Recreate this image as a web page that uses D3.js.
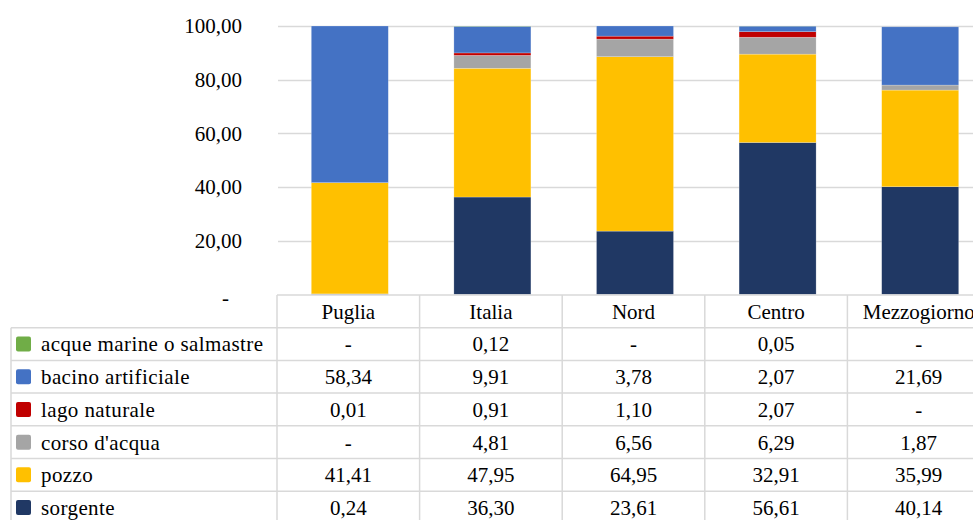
<!DOCTYPE html>
<html>
<head>
<meta charset="utf-8">
<script src="https://cdn.jsdelivr.net/npm/d3@7"></script>
<style>
  body { margin: 0; background: #fff; }
</style>
</head>
<body>
<div id="chart"></div>
<script>
// Data
var categories = ["Puglia", "Italia", "Nord", "Centro", "Mezzogiorno"];
var sorgente = [0.24, 36.30, 23.61, 56.61, 40.14];
var pozzo = [41.41, 47.95, 64.95, 32.91, 35.99];
var corsoAcqua = [0, 4.81, 6.56, 6.29, 1.87];
var lagoNaturale = [0.01, 0.91, 1.10, 2.07, 0];
var bacinoArtificiale = [58.34, 9.91, 3.78, 2.07, 21.69];
var acqueMarine = [0, 0.12, 0, 0.05, 0];
var yTicks = [0, 20, 40, 60, 80, 100];

// series, bottom of the stack first
var series = [
    {name: "sorgente", values: sorgente, color: "#203864"},
    {name: "pozzo", values: pozzo, color: "#FFC000"},
    {name: "corso d'acqua", values: corsoAcqua, color: "#A5A5A5"},
    {name: "lago naturale", values: lagoNaturale, color: "#C00000"},
    {name: "bacino artificiale", values: bacinoArtificiale, color: "#4472C4"},
    {name: "acque marine o salmastre", values: acqueMarine, color: "#70AD47"}
];

var width = 973, height = 520;
var plotLeft = 277, plotRight = 990;
var plotTop = 26, plotBottom = 294.5;
var rowH = 32.7;
var headerTop = 295;
var legendLeft = 11;
var gridColor = "#d9d9d9";
var fontSize = 21;
var fontFam = "'Liberation Serif'";

var it = d3.formatLocale({decimal: ",", thousands: ".", grouping: [3], currency: ["€", ""]});
var fmt = it.format(",.2f");
var cellFmt = function(v) { return v === 0 ? "-" : fmt(v); };

var svg = d3.select("#chart").append("svg")
    .attr("width", width)
    .attr("height", height);

var x = d3.scaleBand()
    .domain(categories)
    .range([plotLeft, plotRight])
    .padding(0);
var barW = 77;

var y = d3.scaleLinear()
    .domain([0, 100])
    .range([plotBottom, plotTop]);

// gridlines
svg.append("g")
    .selectAll("line")
    .data(yTicks.filter(function(t) { return t > 0; }))
    .enter().append("line")
    .attr("x1", plotLeft + 1)
    .attr("x2", width)
    .attr("y1", function(d) { return Math.round(y(d)) + 0.5; })
    .attr("y2", function(d) { return Math.round(y(d)) + 0.5; })
    .attr("stroke", gridColor)
    .attr("stroke-width", 1.5);

// y axis labels
var yAxis = d3.axisLeft(y)
    .tickValues(yTicks)
    .tickSize(0)
    .tickPadding(0)
    .tickFormat(function(d) { return d === 0 ? "-" : fmt(d); });

var yG = svg.append("g")
    .attr("transform", "translate(242,0)")
    .call(yAxis);
yG.select(".domain").remove();
yG.attr("font-family", null).attr("font-size", null);
yG.selectAll("text")
    .style("font-family", fontFam)
    .style("font-size", fontSize + "px")
    .attr("fill", "#000")
    .attr("dy", "0.32em")
    .attr("x", function(d) { return d === 0 ? -13 : 0; })
    .attr("y", function(d) { return d === 0 ? 3 : 0; });

// stacked bars
var rows = categories.map(function(c, i) {
    var r = {cat: c};
    series.forEach(function(s) { r[s.name] = s.values[i]; });
    return r;
});
var stack = d3.stack().keys(series.map(function(s) { return s.name; }));
var stacked = stack(rows);

svg.append("g")
    .selectAll("g")
    .data(stacked)
    .enter().append("g")
    .attr("fill", function(d, i) { return series[i].color; })
    .selectAll("rect")
    .data(function(d) { return d; })
    .enter().append("rect")
    .attr("x", function(d) { return x(d.data.cat) + (x.bandwidth() - barW) / 2 + 1.5; })
    .attr("width", barW)
    .attr("y", function(d) { return y(d[1]); })
    .attr("height", function(d) { return Math.max(0, y(d[0]) - y(d[1])); })
    .attr("stroke", "rgba(255,255,255,0.35)")
    .attr("stroke-width", 0.6);

// data table
var table = svg.append("g");
var legendRows = series.slice().reverse();
var tableBottom = headerTop + rowH * (legendRows.length + 1);

function addText(sel) {
    return sel.append("text")
        .style("font-family", fontFam)
        .style("font-size", fontSize + "px")
        .attr("fill", "#000");
}

// horizontal lines
table.append("line")
    .attr("x1", plotLeft).attr("x2", width)
    .attr("y1", headerTop).attr("y2", headerTop)
    .attr("stroke", gridColor).attr("stroke-width", 1.5);
d3.range(1, legendRows.length + 2).forEach(function(k) {
    var yy = headerTop + rowH * k;
    table.append("line")
        .attr("x1", legendLeft).attr("x2", width)
        .attr("y1", yy).attr("y2", yy)
        .attr("stroke", gridColor).attr("stroke-width", 1.5);
});

// vertical lines
table.append("line")
    .attr("x1", legendLeft).attr("x2", legendLeft)
    .attr("y1", headerTop + rowH).attr("y2", tableBottom)
    .attr("stroke", gridColor).attr("stroke-width", 1.5);
categories.forEach(function(c) {
    table.append("line")
        .attr("x1", x(c)).attr("x2", x(c))
        .attr("y1", headerTop).attr("y2", tableBottom)
        .attr("stroke", gridColor).attr("stroke-width", 1.5);
});

// header
categories.forEach(function(c) {
    addText(table)
        .attr("x", x(c) + x.bandwidth() / 2)
        .attr("y", headerTop + rowH / 2)
        .attr("dy", "0.35em")
        .attr("text-anchor", "middle")
        .text(c);
});

// rows
legendRows.forEach(function(s, r) {
    var cy = headerTop + rowH * (r + 1) + rowH / 2;
    table.append("rect")
        .attr("x", 16).attr("y", cy - 7.5)
        .attr("width", 15).attr("height", 15)
        .attr("rx", 2)
        .attr("fill", s.color);
    addText(table)
        .attr("x", 41).attr("y", cy)
        .attr("dy", "0.35em")
        .style("letter-spacing", "0.4px")
        .text(s.name);
    categories.forEach(function(c, i) {
        addText(table)
            .attr("x", x(c) + x.bandwidth() / 2)
            .attr("y", cy)
            .attr("dy", "0.35em")
            .attr("text-anchor", "middle")
            .text(cellFmt(s.values[i]));
    });
});
</script>
</body>
</html>
